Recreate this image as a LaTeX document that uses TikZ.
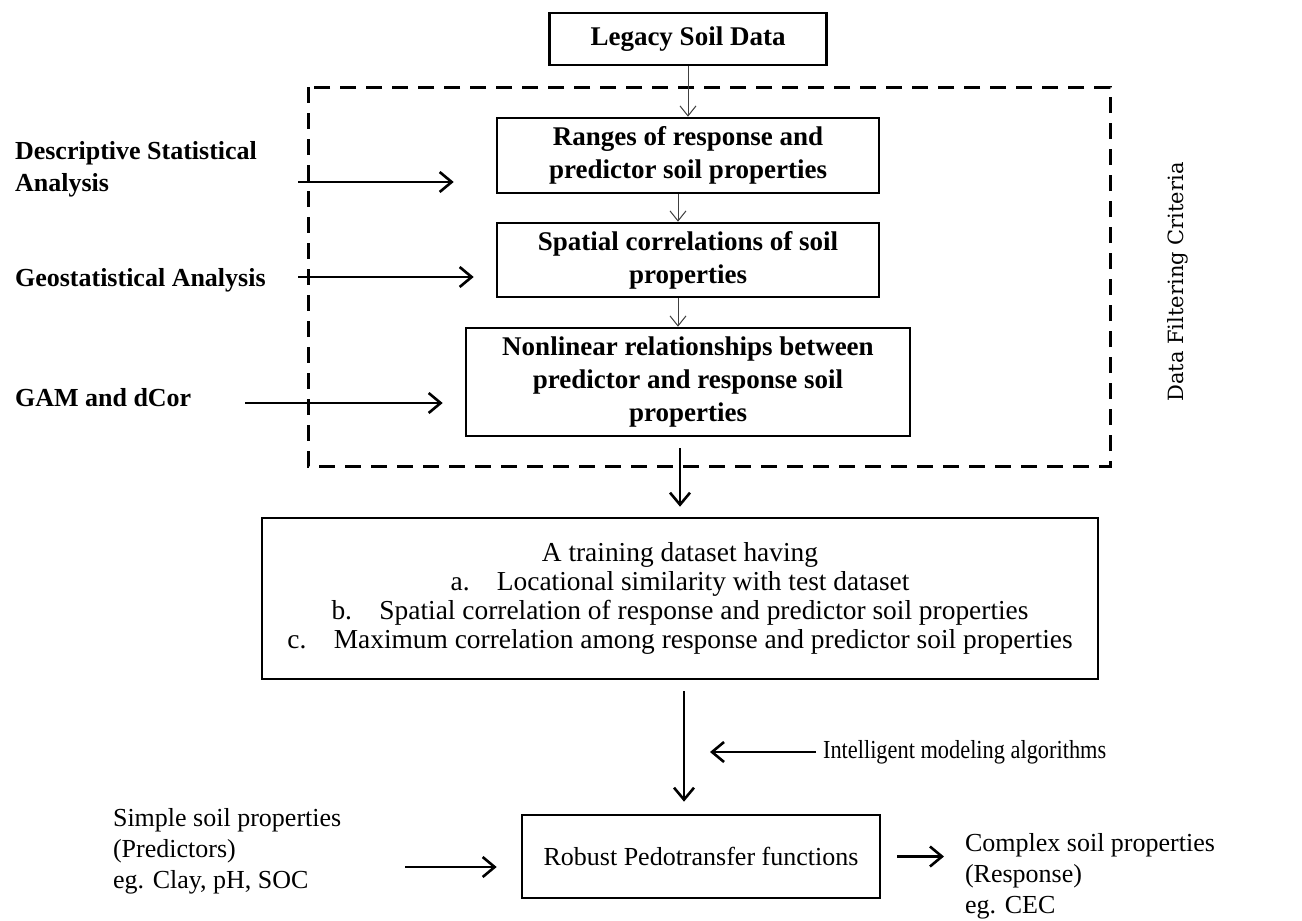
\documentclass[tikz,border=0pt]{standalone}
\usepackage{fontspec}
\setmainfont{Liberation Serif}
\newfontfamily\slabfont{DejaVu Serif}
\usetikzlibrary{arrows.meta}
\begin{document}
\begin{tikzpicture}[x=0.5pt,y=-0.5pt,
  boite/.style={draw, line width=1.3pt, align=center, inner sep=0pt},
  gras/.style={font=\fontsize{13.5}{16.5}\selectfont\bfseries},
  texte/.style={font=\fontsize{13}{15.5}\selectfont},
  fin/.style={draw=black!75, line width=0.5pt, -{Straight Barb[length=5pt,width=8pt]}},
  fort/.style={line width=1.3pt, -{Straight Barb[length=6pt,width=10pt,line width=1.3pt]}}]
\useasboundingbox (0,0) rectangle (1302,921);

\node[boite, gras, minimum width=138.5pt, minimum height=26pt] (leg) at (688,39) {Legacy Soil Data};
\draw[line width=1.5pt, dash pattern=on 8pt off 5pt] (308,87) rectangle (1110,466);
\node[boite, gras, minimum width=191pt, minimum height=37.5pt] (rng) at (688,155.5) {Ranges of response and\\predictor soil properties};
\node[boite, gras, minimum width=191pt, minimum height=37pt] (spa) at (688,260) {Spatial correlations of soil\\properties};
\node[boite, gras, minimum width=222pt, minimum height=54pt] (nonlin) at (688,382) {Nonlinear relationships between\\predictor and response soil\\properties};
\node[rotate=90, font=\slabfont\fontsize{10.5}{12}\selectfont] (dfc) at (1178,282) {Data Filtering Criteria};

\node[gras, anchor=west, align=left, font=\fontsize{13}{16}\selectfont\bfseries] (desc) at (8,169) {Descriptive Statistical\\Analysis};
\node[gras, anchor=west, font=\fontsize{13}{16}\selectfont\bfseries] (geo) at (8,280) {Geostatistical Analysis};
\node[gras, anchor=west, font=\fontsize{13}{16}\selectfont\bfseries] (gam) at (8,398) {GAM and dCor};
\coordinate (d1) at (298,182);
\coordinate (g1) at (298,277);
\coordinate (m1) at (245,403);

\node[boite, font=\fontsize{13.7}{14.5}\selectfont, minimum width=418pt, minimum height=80.5pt] (train) at (680,598.5) {A training dataset having\\
a.\quad Locational similarity with test dataset\\
b.\quad Spatial correlation of response and predictor soil properties\\
c.\quad Maximum correlation among response and predictor soil properties};

\node[texte, anchor=west] (intel) at (816,752) {\scalebox{0.86}[1]{Intelligent modeling algorithms}};
\coordinate (i1) at (710,752);
\node[boite, texte, minimum width=179pt, minimum height=41.5pt] (robust) at (701,856.5) {Robust Pedotransfer functions};
\node[texte, anchor=west, align=left] (simple) at (106,851) {Simple soil properties\\(Predictors)\\eg. Clay, pH, SOC};
\node[texte, anchor=west, align=left] (complex) at (958,876) {Complex soil properties\\(Response)\\eg. CEC};
\coordinate (s1) at (405,867);

\draw[fin] (leg) -- (rng);
\draw[fin] ([xshift=-5pt]rng.south) -- ([xshift=-5pt]spa.north);
\draw[fin] ([xshift=-5pt]spa.south) -- ([xshift=-5pt]nonlin.north);
\draw[fort] (d1) -- (rng.west |- d1) [shorten >=21pt];
\draw[fort] (g1) -- (spa.west |- g1) [shorten >=11pt];
\draw[fort] (m1) -- (nonlin.west |- m1) [shorten >=11pt];
\draw[fort, shorten <=5.5pt, shorten >=5pt] (nonlin.south -| train.north) -- (train.north);
\draw[fort, shorten <=5.5pt, shorten >=6pt] ([xshift=2pt]train.south) -- ([xshift=2pt]train.south |- robust.north);
\draw[fort] (intel.west) -- (i1);
\draw[fort] (s1) -- (robust.west |- s1) [shorten >=12pt];
\draw[fort, shorten <=8pt, shorten >=7pt] (robust.east) -- (robust.east -| complex.west);

\end{tikzpicture}
\end{document}
